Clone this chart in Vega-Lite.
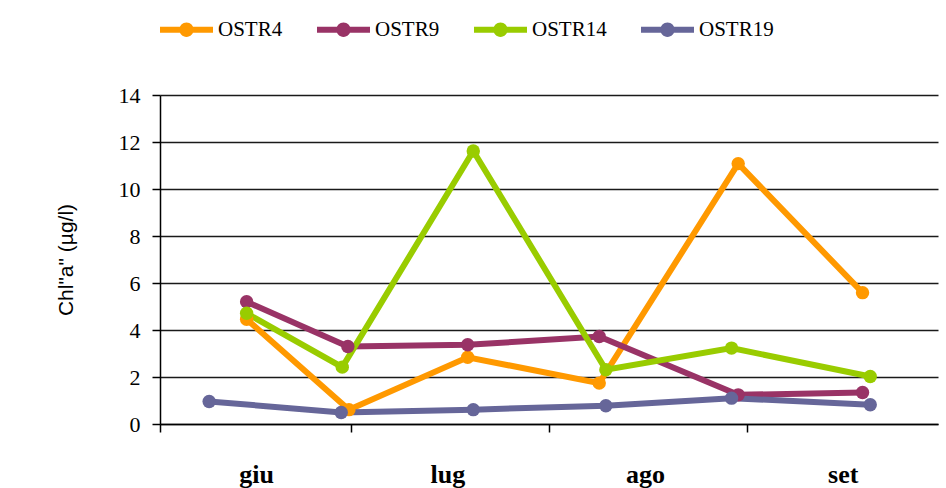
{
  "$schema": "https://vega.github.io/schema/vega-lite/v6.json",
  "autosize": "none",
  "width": 778,
  "height": 329,
  "padding": {"left": 160, "top": 95, "right": 8, "bottom": 64},
  "background": "white",
  "config": {"view": {"stroke": null}},
  "data": {
    "values": [
      {"serie": "OSTR4", "data": "2009-06-14T14:00:00Z", "chla": 4.46},
      {"serie": "OSTR4", "data": "2009-06-30T15:00:00Z", "chla": 0.61},
      {"serie": "OSTR4", "data": "2009-07-19T06:00:00Z", "chla": 2.84},
      {"serie": "OSTR4", "data": "2009-08-08T21:00:00Z", "chla": 1.74},
      {"serie": "OSTR4", "data": "2009-08-30T16:00:00Z", "chla": 11.08},
      {"serie": "OSTR4", "data": "2009-09-19T04:00:00Z", "chla": 5.59},
      {"serie": "OSTR9", "data": "2009-06-14T14:00:00Z", "chla": 5.2},
      {"serie": "OSTR9", "data": "2009-06-30T11:00:00Z", "chla": 3.3},
      {"serie": "OSTR9", "data": "2009-07-19T06:00:00Z", "chla": 3.37},
      {"serie": "OSTR9", "data": "2009-08-08T21:00:00Z", "chla": 3.72},
      {"serie": "OSTR9", "data": "2009-08-30T16:00:00Z", "chla": 1.24},
      {"serie": "OSTR9", "data": "2009-09-19T04:00:00Z", "chla": 1.34},
      {"serie": "OSTR14", "data": "2009-06-14T14:00:00Z", "chla": 4.71},
      {"serie": "OSTR14", "data": "2009-06-29T14:00:00Z", "chla": 2.42},
      {"serie": "OSTR14", "data": "2009-07-20T03:00:00Z", "chla": 11.62},
      {"serie": "OSTR14", "data": "2009-08-09T22:00:00Z", "chla": 2.31},
      {"serie": "OSTR14", "data": "2009-08-29T15:00:00Z", "chla": 3.23},
      {"serie": "OSTR14", "data": "2009-09-20T09:00:00Z", "chla": 2.02},
      {"serie": "OSTR19", "data": "2009-06-08T17:00:00Z", "chla": 0.96},
      {"serie": "OSTR19", "data": "2009-06-29T10:00:00Z", "chla": 0.49},
      {"serie": "OSTR19", "data": "2009-07-20T03:00:00Z", "chla": 0.61},
      {"serie": "OSTR19", "data": "2009-08-09T22:00:00Z", "chla": 0.78},
      {"serie": "OSTR19", "data": "2009-08-29T15:00:00Z", "chla": 1.1},
      {"serie": "OSTR19", "data": "2009-09-20T09:00:00Z", "chla": 0.82}
    ]
  },
  "encoding": {
    "x": {
      "field": "data",
      "type": "temporal",
      "scale": {
        "type": "utc",
        "domain": [
          {"year": 2009, "month": 6, "date": 1, "utc": true},
          {"year": 2009, "month": 10, "date": 1, "utc": true}
        ]
      },
      "axis": {
        "title": null,
        "grid": false,
        "values": [
          {"year": 2009, "month": 6, "date": 1, "utc": true},
          {"year": 2009, "month": 7, "date": 1, "utc": true},
          {"year": 2009, "month": 8, "date": 1, "utc": true},
          {"year": 2009, "month": 9, "date": 1, "utc": true}
        ],
        "labelExpr": "['gen','feb','mar','apr','mag','giu','lug','ago','set','ott','nov','dic'][utcmonth(datum.value)]",
        "labelFont": "Liberation Serif",
        "labelFontSize": 26,
        "labelFontWeight": "bold",
        "labelColor": "black",
        "labelBaseline": "alphabetic",
        "labelAlign": "center",
        "labelOffset": 96,
        "labelPadding": 50,
        "labelFlush": false,
        "labelOverlap": false,
        "domainColor": "black",
        "domainWidth": 1.5,
        "tickColor": "black",
        "tickWidth": 1.5,
        "tickSize": 8
      }
    },
    "y": {
      "field": "chla",
      "type": "quantitative",
      "scale": {"domain": [0, 14], "nice": false, "zero": true},
      "axis": {
        "title": "Chl\"a\" (µg/l)",
        "titleFont": "Liberation Sans",
        "titleFontSize": 21,
        "titleFontWeight": "normal",
        "titleColor": "black",
        "titlePadding": 42,
        "values": [0, 2, 4, 6, 8, 10, 12, 14],
        "grid": true,
        "gridColor": "#1a1a1a",
        "gridWidth": 1.5,
        "domainColor": "black",
        "domainWidth": 1.5,
        "tickColor": "black",
        "tickWidth": 1.5,
        "tickSize": 8,
        "labelFont": "Liberation Serif",
        "labelFontSize": 22,
        "labelColor": "black",
        "labelPadding": 12
      }
    },
    "color": {
      "field": "serie",
      "type": "nominal",
      "scale": {
        "domain": ["OSTR4", "OSTR9", "OSTR14", "OSTR19"],
        "range": ["#FF9900", "#993366", "#99CC00", "#666699"]
      },
      "legend": {
        "title": null,
        "orient": "none",
        "direction": "horizontal",
        "legendX": 0,
        "legendY": -92,
        "symbolType": "M-1,-0.11H1V0.11H-1Z M0,-0.27A0.27,0.27 0 1,1 0,0.27A0.27,0.27 0 1,1 0,-0.27Z",
        "symbolSize": 2809,
        "symbolStrokeWidth": 0,
        "labelFont": "Liberation Serif",
        "labelFontSize": 21,
        "labelColor": "black",
        "labelOffset": 5,
        "columnPadding": 34,
        "encode": {
          "symbols": {
            "update": {
              "fill": {"scale": "color", "field": "value"},
              "fillOpacity": {"value": 1},
              "strokeWidth": {"value": 0}
            }
          }
        }
      }
    }
  },
  "layer": [
    {"mark": {"type": "line", "strokeWidth": 6}},
    {"mark": {"type": "point", "filled": true, "size": 180, "opacity": 1, "shape": "circle"}}
  ]
}
